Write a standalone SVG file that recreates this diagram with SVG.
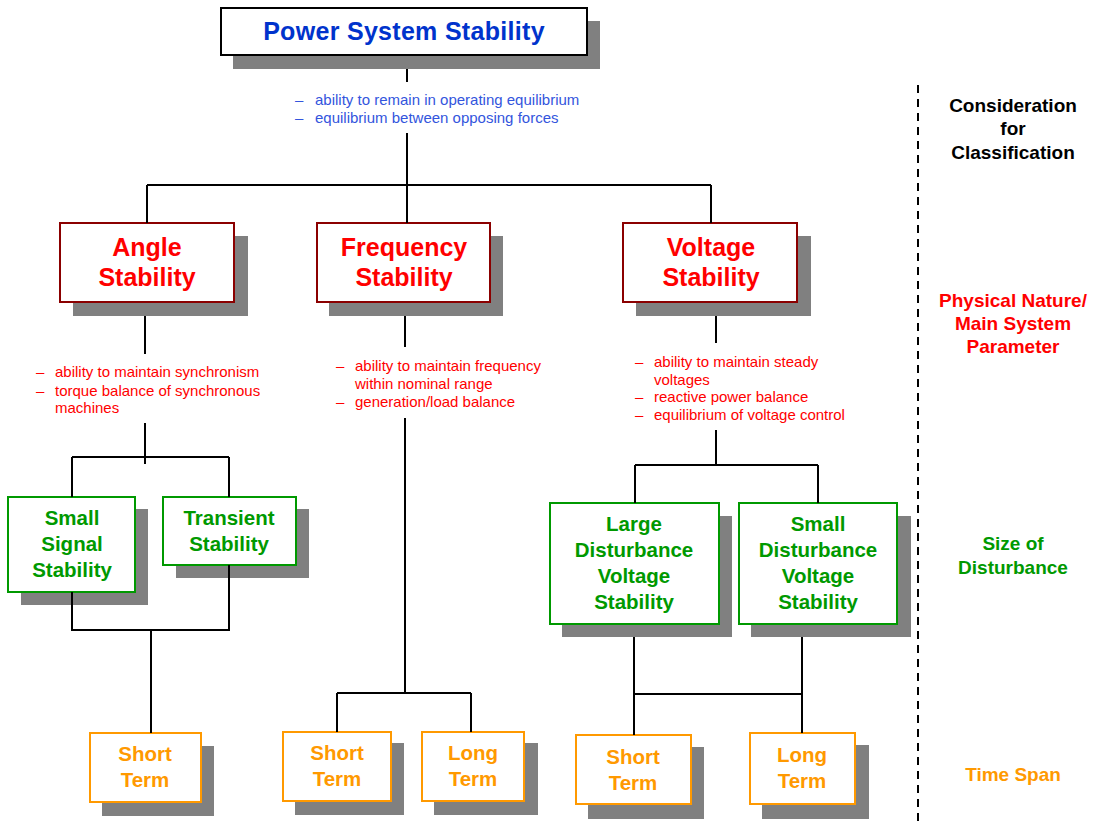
<svg xmlns="http://www.w3.org/2000/svg" width="1096" height="825" viewBox="0 0 1096 825">
<style>
text{font-family:"Liberation Sans",Arial,sans-serif}
.sh{fill:#808080}
.bx{fill:#fff;stroke-width:2}
.bk{stroke:#000}
.rd{stroke:#8B0000}
.gr{stroke:#009900}
.or{stroke:#FF9900}
.t1{font-size:25px;font-weight:bold;text-anchor:middle}
.t2{font-size:20.5px;font-weight:bold;text-anchor:middle}
.cb{fill:#0033CC}
.cr{fill:#FF0000}
.cg{fill:#009900}
.co{fill:#FF9900}
.sm{font-size:15px}
.sb{fill:#3355DD}
.lab{font-size:19px;font-weight:bold;text-anchor:middle}
.cn{fill:none;stroke:#000;stroke-width:2}
</style>
<g id="node-power">
<rect class="sh" x="233" y="21" width="367" height="48"/>
<rect class="bx bk" x="221" y="8" width="366" height="47"/>
<text class="t1 cb" x="404" y="40" letter-spacing="0.3">Power System Stability</text>
<text class="sm sb" x="295" y="105">–</text><text class="sm sb" x="315" y="105">ability to remain in operating equilibrium</text>
<text class="sm sb" x="295" y="123">–</text><text class="sm sb" x="315" y="123">equilibrium between opposing forces</text>
</g>
<g id="node-angle">
<rect class="sh" x="73" y="236" width="175" height="80"/>
<rect class="bx rd" x="60" y="223" width="174" height="79"/>
<text class="t1 cr" x="147" y="256">Angle</text>
<text class="t1 cr" x="147" y="286">Stability</text>
<g class="sm cr">
<text x="36" y="377">–</text><text x="55" y="377">ability to maintain synchronism</text>
<text x="36" y="396">–</text><text x="55" y="396">torque balance of synchronous</text>
<text x="55" y="413">machines</text>
</g>
</g>
<g id="node-frequency">
<rect class="sh" x="329" y="236" width="174" height="80"/>
<rect class="bx rd" x="317" y="223" width="173" height="79"/>
<text class="t1 cr" x="404" y="256">Frequency</text>
<text class="t1 cr" x="404" y="286">Stability</text>
<g class="sm cr">
<text x="336" y="371">–</text><text x="355" y="371">ability to maintain frequency</text>
<text x="355" y="389">within nominal range</text>
<text x="336" y="407">–</text><text x="355" y="407">generation/load balance</text>
</g>
</g>
<g id="node-voltage">
<rect class="sh" x="636" y="236" width="175" height="80"/>
<rect class="bx rd" x="623" y="223" width="174" height="79"/>
<text class="t1 cr" x="711" y="256">Voltage</text>
<text class="t1 cr" x="711" y="286">Stability</text>
<g class="sm cr">
<text x="635" y="367">–</text><text x="654" y="367">ability to maintain steady</text>
<text x="654" y="385">voltages</text>
<text x="635" y="402">–</text><text x="654" y="402">reactive power balance</text>
<text x="635" y="420">–</text><text x="654" y="420">equilibrium of voltage control</text>
</g>
</g>
<g id="node-small-signal">
<rect class="sh" x="21" y="509" width="127" height="96"/>
<rect class="bx gr" x="8" y="497" width="127" height="95"/>
<text class="t2 cg" x="72" y="525">Small</text>
<text class="t2 cg" x="72" y="551">Signal</text>
<text class="t2 cg" x="72" y="577">Stability</text>
</g>
<g id="node-transient">
<rect class="sh" x="176" y="509" width="133" height="69"/>
<rect class="bx gr" x="163" y="497" width="133" height="68"/>
<text class="t2 cg" x="229" y="525">Transient</text>
<text class="t2 cg" x="229" y="551">Stability</text>
</g>
<g id="node-large-dist">
<rect class="sh" x="562" y="516" width="170" height="121"/>
<rect class="bx gr" x="550" y="503" width="169" height="121"/>
<text class="t2 cg" x="634" y="531">Large</text>
<text class="t2 cg" x="634" y="557">Disturbance</text>
<text class="t2 cg" x="634" y="583">Voltage</text>
<text class="t2 cg" x="634" y="609">Stability</text>
</g>
<g id="node-small-dist">
<rect class="sh" x="751" y="516" width="160" height="121"/>
<rect class="bx gr" x="739" y="503" width="158" height="121"/>
<text class="t2 cg" x="818" y="531">Small</text>
<text class="t2 cg" x="818" y="557">Disturbance</text>
<text class="t2 cg" x="818" y="583">Voltage</text>
<text class="t2 cg" x="818" y="609">Stability</text>
</g>
<g id="node-short1">
<rect class="sh" x="102" y="746" width="112" height="70"/>
<rect class="bx or" x="90" y="733" width="111" height="69"/>
<text class="t2 co" x="145" y="761">Short</text>
<text class="t2 co" x="145" y="787">Term</text>
</g>
<g id="node-short2">
<rect class="sh" x="295" y="743" width="109" height="72"/>
<rect class="bx or" x="283" y="732" width="108" height="69"/>
<text class="t2 co" x="337" y="760">Short</text>
<text class="t2 co" x="337" y="786">Term</text>
</g>
<g id="node-long2">
<rect class="sh" x="434" y="743" width="104" height="72"/>
<rect class="bx or" x="422" y="732" width="102" height="69"/>
<text class="t2 co" x="473" y="760">Long</text>
<text class="t2 co" x="473" y="786">Term</text>
</g>
<g id="node-short3">
<rect class="sh" x="588" y="747" width="116" height="72"/>
<rect class="bx or" x="576" y="735" width="115" height="69"/>
<text class="t2 co" x="633" y="764">Short</text>
<text class="t2 co" x="633" y="790">Term</text>
</g>
<g id="node-long3">
<rect class="sh" x="762" y="745" width="107" height="74"/>
<rect class="bx or" x="750" y="733" width="105" height="71"/>
<text class="t2 co" x="802" y="762">Long</text>
<text class="t2 co" x="802" y="788">Term</text>
</g>
<g id="connectors">
<path class="cn" d="M407 69V82M407 133V185M147 185H711M147 185V223M407 185V223M711 185V223"/>
<path class="cn" d="M145 316V354M145 423V464M72 457H229M72 457V497M229 457V497M72 592V630H229V565M151 630V733"/>
<path class="cn" d="M405 316V347M405 418V693M337 693H471M337 693V732M471 693V732"/>
<path class="cn" d="M716 316V343M716 430V465M635 465H818M635 465V503M818 465V503M634 637V735M634 694H802M802 637V733"/>
</g>
<g id="legend">
<line x1="918" y1="85" x2="918" y2="825" stroke="#000" stroke-width="2" stroke-dasharray="8 6"/>
<text class="lab" x="1013" y="112" fill="#000">Consideration</text>
<text class="lab" x="1013" y="135" fill="#000">for</text>
<text class="lab" x="1013" y="159" fill="#000">Classification</text>
<text class="lab cr" x="1013" y="307">Physical Nature/</text>
<text class="lab cr" x="1013" y="330">Main System</text>
<text class="lab cr" x="1013" y="353">Parameter</text>
<text class="lab cg" x="1013" y="550">Size of</text>
<text class="lab cg" x="1013" y="574">Disturbance</text>
<text class="lab co" x="1013" y="781">Time Span</text>
</g>
</svg>
